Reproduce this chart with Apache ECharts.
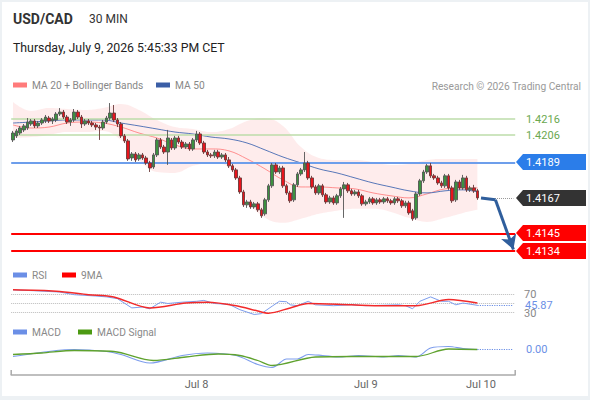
<!DOCTYPE html>
<html><head><meta charset="utf-8">
<script src="https://cdn.jsdelivr.net/npm/echarts@6.0.0/dist/echarts.min.js"></script>
<style>
html,body{margin:0;padding:0;background:#fff;}
#wrap{position:relative;width:590px;height:400px;overflow:hidden;}
#c{position:absolute;left:0;top:0;width:590px;height:400px;}
#frame{position:absolute;left:0;top:0;width:590px;height:400px;box-sizing:border-box;border-style:solid;border-color:#edf1f4;border-width:2px 2px 4px 2px;pointer-events:none;}
</style></head>
<body><div id="wrap"><div id="c"></div><div id="frame"></div></div>
<script>
// ---------- data ----------
const opens = [
1.42030,1.42055,1.42073,1.42092,1.42104,1.42129,1.42148,1.42117,1.42135,1.42148,
1.42166,1.42148,1.42154,1.42191,1.42203,1.42172,1.42141,1.42154,1.42203,1.42172,
1.42129,1.42148,1.42135,1.42123,1.42110,1.42104,1.42141,1.42166,1.42197,1.42154,
1.42129,1.42055,1.42024,1.41918,1.41943,1.41912,1.41937,1.41918,1.41887,1.41862,
1.41937,1.42030,1.41986,1.41955,1.42030,1.41980,1.42042,1.42017,1.41986,1.42005,
1.41974,1.42030,1.42067,1.42011,1.41955,1.41937,1.41931,1.41955,1.41924,1.41937,
1.41906,1.41869,1.41844,1.41794,1.41707,1.41627,1.41645,1.41614,1.41633,1.41596,
1.41571,1.41658,1.41745,1.41875,1.41831,1.41856,1.41745,1.41701,1.41658,1.41751,
1.41819,1.41844,1.41887,1.41794,1.41738,1.41701,1.41745,1.41689,1.41645,1.41670,
1.41639,1.41683,1.41726,1.41751,1.41714,1.41695,1.41707,1.41683,1.41633,1.41645,
1.41664,1.41639,1.41658,1.41645,1.41664,1.41652,1.41639,1.41664,1.41652,1.41621,
1.41639,1.41590,1.41546,1.41695,1.41776,1.41831,1.41869,1.41807,1.41794,1.41763,
1.41745,1.41807,1.41732,1.41658,1.41769,1.41732,1.41794,1.41720,1.41732,1.41714];
const closes = [
1.42073,1.42086,1.42104,1.42117,1.42141,1.42148,1.42117,1.42135,1.42154,1.42172,
1.42148,1.42160,1.42191,1.42203,1.42172,1.42141,1.42154,1.42203,1.42172,1.42129,
1.42148,1.42135,1.42123,1.42110,1.42104,1.42141,1.42166,1.42197,1.42154,1.42129,
1.42055,1.42024,1.41912,1.41943,1.41906,1.41937,1.41918,1.41887,1.41856,1.41937,
1.42030,1.41986,1.41955,1.42042,1.41980,1.42042,1.42017,1.41986,1.42005,1.41974,
1.42030,1.42067,1.42011,1.41955,1.41937,1.41931,1.41955,1.41924,1.41937,1.41906,
1.41869,1.41844,1.41794,1.41707,1.41627,1.41645,1.41614,1.41633,1.41596,1.41559,
1.41658,1.41745,1.41875,1.41831,1.41856,1.41745,1.41701,1.41652,1.41751,1.41819,
1.41844,1.41887,1.41794,1.41738,1.41701,1.41745,1.41689,1.41645,1.41670,1.41639,
1.41683,1.41726,1.41751,1.41714,1.41695,1.41707,1.41683,1.41633,1.41645,1.41664,
1.41639,1.41658,1.41645,1.41664,1.41652,1.41639,1.41664,1.41652,1.41621,1.41639,
1.41577,1.41540,1.41695,1.41776,1.41831,1.41869,1.41807,1.41794,1.41763,1.41745,
1.41807,1.41732,1.41652,1.41769,1.41732,1.41794,1.41720,1.41732,1.41714,1.41670];
const highs = [
1.42086,1.42098,1.42117,1.42129,1.42166,1.42160,1.42160,1.42148,1.42166,1.42185,
1.42179,1.42172,1.42203,1.42228,1.42216,1.42185,1.42166,1.42222,1.42216,1.42185,
1.42160,1.42160,1.42148,1.42135,1.42123,1.42154,1.42179,1.42259,1.42247,1.42166,
1.42141,1.42067,1.42036,1.41955,1.41955,1.41949,1.41949,1.41931,1.41900,1.41949,
1.42042,1.42042,1.41999,1.42092,1.42042,1.42055,1.42055,1.42030,1.42017,1.42017,
1.42042,1.42086,1.42079,1.42024,1.41968,1.41949,1.41968,1.41968,1.41949,1.41949,
1.41924,1.41881,1.41856,1.41807,1.41720,1.41658,1.41658,1.41645,1.41645,1.41608,
1.41670,1.41757,1.41887,1.41887,1.41869,1.41869,1.41757,1.41714,1.41763,1.41831,
1.41856,1.41955,1.41900,1.41807,1.41751,1.41757,1.41757,1.41701,1.41683,1.41683,
1.41695,1.41738,1.41769,1.41763,1.41726,1.41720,1.41720,1.41695,1.41658,1.41676,
1.41676,1.41670,1.41670,1.41676,1.41676,1.41664,1.41676,1.41676,1.41664,1.41652,
1.41652,1.41602,1.41707,1.41788,1.41844,1.41881,1.41887,1.41819,1.41807,1.41776,
1.41819,1.41819,1.41745,1.41782,1.41782,1.41813,1.41807,1.41745,1.41751,1.41726];
const lows = [
1.42017,1.42042,1.42061,1.42079,1.42092,1.42117,1.42104,1.42104,1.42123,1.42135,
1.42135,1.42129,1.42141,1.42179,1.42160,1.42129,1.42117,1.42141,1.42160,1.42104,
1.42117,1.42123,1.42110,1.42092,1.42030,1.42092,1.42129,1.42154,1.42141,1.42110,
1.42042,1.42011,1.41900,1.41900,1.41893,1.41900,1.41906,1.41875,1.41831,1.41850,
1.41924,1.41974,1.41943,1.41875,1.41968,1.41968,1.42005,1.41974,1.41974,1.41962,
1.41962,1.42017,1.41999,1.41943,1.41924,1.41918,1.41918,1.41912,1.41912,1.41893,
1.41856,1.41831,1.41782,1.41695,1.41614,1.41608,1.41602,1.41602,1.41583,1.41546,
1.41559,1.41645,1.41732,1.41819,1.41819,1.41732,1.41689,1.41639,1.41645,1.41738,
1.41807,1.41831,1.41782,1.41726,1.41689,1.41689,1.41676,1.41633,1.41633,1.41627,
1.41627,1.41670,1.41546,1.41701,1.41683,1.41683,1.41670,1.41621,1.41621,1.41633,
1.41627,1.41627,1.41633,1.41633,1.41639,1.41627,1.41627,1.41639,1.41608,1.41608,
1.41565,1.41528,1.41534,1.41683,1.41763,1.41819,1.41794,1.41782,1.41751,1.41732,
1.41732,1.41720,1.41639,1.41645,1.41720,1.41720,1.41707,1.41707,1.41701,1.41658];

// moving averages / bands, read at every 5th candle
const maIdx  = [0,5,10,15,20,25,30,35,40,45,50,55,60,65,70,75,80,85,90,95,100,105,110,115,120,125,129];
const ma20   = [1.42123,1.42104,1.42110,1.42135,1.42141,1.42135,1.42110,1.42073,1.42042,1.41999,1.41974,1.41974,1.41962,1.41912,1.41850,1.41782,1.41738,1.41738,1.41732,1.41726,1.41701,1.41683,1.41670,1.41695,1.41726,1.41732,1.41732];
const ma50   = [1.42135,1.42141,1.42148,1.42154,1.42154,1.42154,1.42135,1.42117,1.42098,1.42079,1.42067,1.42048,1.42036,1.42011,1.41968,1.41924,1.41887,1.41850,1.41825,1.41794,1.41763,1.41738,1.41714,1.41701,1.41714,1.41720,1.41707];
const bbUpper= [1.42265,1.42210,1.42228,1.42222,1.42216,1.42228,1.42253,1.42216,1.42154,1.42110,1.42098,1.42079,1.42098,1.42148,1.42166,1.42117,1.41986,1.41918,1.41906,1.41906,1.41893,1.41875,1.41881,1.41906,1.41912,1.41912,1.41912];
const bbLower= [1.42042,1.42048,1.42061,1.42079,1.42079,1.42086,1.42030,1.41906,1.41831,1.41825,1.41869,1.41887,1.41856,1.41658,1.41546,1.41515,1.41540,1.41571,1.41590,1.41602,1.41602,1.41583,1.41546,1.41521,1.41546,1.41577,1.41596];

// RSI and its 9-period MA
const rsiIdx  = [0,6,13,17,23,26,29,33,36,38,41,43,47,51,53,56,60,63,67,69,72,74,76,77,79,82,84,89,94,98,103,107,109,111,113,116,119,121,123,125,129];
const rsiVals = [81,79,76,70,67,65,61,40,42,38,53,50,53,55,57,50,48,36,25,27,44,55,54,47,45,55,47,45,47,45,46,47,45,38,55,65,55,55,47,51,45.87];
const ma9Idx  = [0,12,21,28,38,48,54,62,68,71,77,82,94,103,112,121,129];
const ma9Vals = [81,78,70,65,40,51,53,45,33,28,40,50,47,45,45,59,51];

// MACD
const macdIdx  = [0,12,17,26,30,38,47,54,62,68,72,76,79,82,86,91,96,103,107,112,116,121,125,129];
const macdVals = [-0.00011,0.00001,0.00003,-0.00001,-0.00007,-0.00024,-0.00009,-0.00004,-0.00009,-0.00027,-0.00033,-0.00016,-0.00016,-0.00007,-0.00009,-0.00012,-0.00009,-0.00012,-0.00009,-0.00012,0.00006,0.00009,0.00005,0.00003];
const sigIdx   = [0,8,17,28,39,48,57,63,68,72,84,94,112,121,129];
const sigVals  = [-0.00007,-0.00004,0.00001,-0.00001,-0.00019,-0.00012,-0.00006,-0.00009,-0.00019,-0.00029,-0.00012,-0.00011,-0.00011,0.00004,0.00003];

// levels
const levelValues = [1.4216, 1.4206, 1.4189, 1.4167, 1.4145, 1.4134];
const levelLabels = ['1.4216','1.4206','1.4189','1.4167','1.4145','1.4134'];
const rsiLevels = [70, 50, 30];
const rsiLevelLabels = ['70', '', '30'];
const rsiLast = 45.87, rsiLastLabel = '45.87';
const macdLastLabel = '0.00';
const targetPrice = 1.4135;

// x axis ticks
const slotCount = 140;
const dateLabelIdx = [51, 98, 130];
const dateLabels = ['Jul 8', 'Jul 9', 'Jul 10'];

// ---------- build ----------
const cats = Array.from({length: slotCount}, (_, i) => String(i));
const pairs = (idx, vals) => idx.map((x, k) => [x, vals[k]]);
const candles = opens.map((o, i) => [o, closes[i], lows[i], highs[i]]);
const lastIdx = opens.length - 1;
const lastClose = closes[lastIdx];
const bandDiff = bbUpper.map((u, k) => +(u - bbLower[k]).toFixed(5));
const FONT = 'Roboto';
const SMALL = 10.2;

const chart = echarts.init(document.getElementById('c'), null, {renderer: 'svg', width: 590, height: 400});

const GL = 11.2, GW = 504;
const legendItem = (name, color, left, top) => ({
  left: left, top: top, padding: 0, icon: 'rect', itemWidth: 14, itemHeight: 5,
  textStyle: {color: '#888', fontSize: SMALL, fontFamily: FONT},
  data: [{name: name, itemStyle: {color: color}}]
});
const option = {
  animation: false,
  textStyle: {fontFamily: FONT},
  grid: [
    {left: GL, width: GW, top: 95, height: 167},
    {left: GL, width: GW, top: 281.5, height: 44},
    {left: GL, width: GW, top: 335, height: 40}
  ],
  xAxis: [
    {type: 'category', gridIndex: 0, data: cats, show: false},
    {type: 'category', gridIndex: 1, data: cats, show: false},
    {type: 'category', gridIndex: 2, data: cats,
      axisLine: {onZero: false, lineStyle: {color: '#aaaaaa', width: 1.5}},
      axisTick: {show: false},
      splitLine: {show: false},
      axisLabel: {
        interval: (i) => dateLabelIdx.indexOf(i) >= 0,
        formatter: (v) => { const k = dateLabelIdx.indexOf(Number(v)); return k >= 0 ? dateLabels[k] : ''; },
        color: '#666', fontSize: 11, margin: 4, fontFamily: FONT
      }}
  ],
  yAxis: [
    {type: 'value', gridIndex: 0, min: 1.41272, max: 1.42309, show: false},
    {type: 'value', gridIndex: 1, min: 0, max: 100, show: false},
    {type: 'value', gridIndex: 2, min: -0.00048, max: 0.00032, show: false}
  ],
  legend: [
    legendItem('MA 20 + Bollinger Bands', '#ff7b7b', 13, 80),
    legendItem('MA 50', '#3b5ea6', 156, 80),
    legendItem('RSI', '#6b8fe6', 13, 270),
    legendItem('9MA', '#ff0000', 62, 270),
    legendItem('MACD', '#6b8fe6', 13, 327),
    legendItem('MACD Signal', '#4c9a12', 78, 327)
  ],
  series: [
    {name: 'bbLow', type: 'line', xAxisIndex: 0, yAxisIndex: 0, stack: 'bb', smooth: 0.4, symbol: 'none', silent: true, z: 1,
      lineStyle: {opacity: 0}, data: pairs(maIdx, bbLower)},
    {name: 'bbBand', type: 'line', xAxisIndex: 0, yAxisIndex: 0, stack: 'bb', smooth: 0.4, symbol: 'none', silent: true, z: 1,
      lineStyle: {opacity: 0}, areaStyle: {color: 'rgba(250,175,175,0.33)'}, data: pairs(maIdx, bandDiff)},
    {name: 'MA 20 + Bollinger Bands', type: 'line', xAxisIndex: 0, yAxisIndex: 0, smooth: 0.4, symbol: 'none', z: 2,
      color: '#ff8f8f', lineStyle: {color: '#ff8f8f', width: 1}, data: pairs(maIdx, ma20)},
    {name: 'MA 50', type: 'line', xAxisIndex: 0, yAxisIndex: 0, smooth: 0.4, symbol: 'none', z: 2,
      color: '#5877b8', lineStyle: {color: '#5877b8', width: 1}, data: pairs(maIdx, ma50),
      markLine: {silent: true, symbol: ['none', 'none'], label: {show: false}, z: 4, precision: 5,
        data: [
          {yAxis: levelValues[0], lineStyle: {color: '#bcdcaa', width: 1.5, type: 'solid'}},
          {yAxis: levelValues[1], lineStyle: {color: '#bcdcaa', width: 1.5, type: 'solid'}},
          {yAxis: levelValues[2], lineStyle: {color: '#6d9eeb', width: 2, type: 'solid'}},
          {yAxis: levelValues[4], lineStyle: {color: '#ff0000', width: 2, type: 'solid'}},
          {yAxis: levelValues[5], lineStyle: {color: '#ff0000', width: 2, type: 'solid'}}
        ]}},
    {name: 'USD/CAD', type: 'candlestick', xAxisIndex: 0, yAxisIndex: 0, z: 6, barWidth: 3,
      itemStyle: {color: '#3c9140', color0: '#e8141c', borderColor: '#555555', borderColor0: '#6a3a3a', borderWidth: 0.9},
      data: candles,
      markLine: {silent: true, label: {show: false}, z: 7, symbol: ['none', 'none'], precision: 5,
        data: [
          [{coord: [lastIdx + 1, lastClose]}, {coord: [slotCount - 1, lastClose]}],
          [{coord: [lastIdx + 1, lastClose], symbol: 'none', lineStyle: {color: '#2f5e9c', width: 3, type: 'solid'}},
           {coord: [lastIdx + 5, lastClose - 0.00012], symbol: 'none'}],
          [{coord: [lastIdx + 5, lastClose - 0.00012], symbol: 'none', lineStyle: {color: '#2f5e9c', width: 3, type: 'solid'}},
           {coord: [slotCount - 1, targetPrice], symbol: 'arrow', symbolSize: [12, 14]}]
        ],
        lineStyle: {color: '#999', width: 1, type: 'dotted'}}},
    {name: 'RSI', type: 'line', xAxisIndex: 1, yAxisIndex: 1, symbol: 'none', z: 3,
      color: '#7d9ded', lineStyle: {color: '#7d9ded', width: 1}, data: pairs(rsiIdx, rsiVals),
      markLine: {silent: true, symbol: ['none', 'none'], label: {show: false}, z: 1, precision: 5,
        data: rsiLevels.map(v => ({yAxis: v, lineStyle: {color: '#bbbbbb', width: 1, type: 'dotted'}})).concat([
          [{coord: [lastIdx, rsiLast], lineStyle: {color: '#6b8fe6', width: 1.2, type: 'dotted'}}, {coord: [slotCount - 1, rsiLast]}]
        ])}},
    {name: '9MA', type: 'line', xAxisIndex: 1, yAxisIndex: 1, symbol: 'none', smooth: 0.3, z: 4,
      color: '#f22a2a', lineStyle: {color: '#f22a2a', width: 1.5}, data: pairs(ma9Idx, ma9Vals)},
    {name: 'MACD', type: 'line', xAxisIndex: 2, yAxisIndex: 2, symbol: 'none', smooth: 0.3, z: 3,
      color: '#7d9ded', lineStyle: {color: '#7d9ded', width: 1.2}, data: pairs(macdIdx, macdVals),
      markLine: {silent: true, symbol: ['none', 'none'], label: {show: false}, precision: 6,
        data: [[{coord: [lastIdx, macdVals[macdVals.length - 1]], lineStyle: {color: '#6b8fe6', width: 1.2, type: 'dotted'}},
                {coord: [slotCount - 1, macdVals[macdVals.length - 1]]}]]}},
    {name: 'MACD Signal', type: 'line', xAxisIndex: 2, yAxisIndex: 2, symbol: 'none', smooth: 0.3, z: 4,
      color: '#5fa22e', lineStyle: {color: '#5fa22e', width: 1.3}, data: pairs(sigIdx, sigVals)}
  ]
};
chart.setOption(option);

// ---------- right-side labels & headers ----------
const yMain = v => chart.convertToPixel({yAxisIndex: 0}, v);
const yRsi = v => chart.convertToPixel({yAxisIndex: 1}, v);
const yMacd = v => chart.convertToPixel({yAxisIndex: 2}, v);
const txt = (text, x, y, fill, font, align) => ({type: 'text', silent: true, z: 20,
  style: {text: text, x: x, y: y, fill: fill, font: font, align: align || 'left', verticalAlign: 'middle',
          textAlign: align || 'left', textVerticalAlign: 'middle'}});
const boxFills = [null, null, '#2b7de9', '#333333', '#ff0000', '#ff0000'];
const g = [];
g.push(txt('USD/CAD', 13, 19, '#333', 'bold 14px Roboto'));
g.push(txt('30 MIN', 89, 19, '#333', '12px Roboto'));
g.push(txt('Thursday, July 9, 2026 5:45:33 PM CET', 13, 48, '#222', '12.3px Roboto'));
g.push(txt('Research \u00a9 2026 Trading Central', 581, 86, '#999', SMALL + 'px Roboto', 'right'));
levelValues.forEach((v, k) => {
  const y = Math.round(yMain(v));
  if (boxFills[k]) {
    g.push({type: 'polygon', silent: true, z: 18,
      shape: {points: [[516, y], [523, y - 8], [586, y - 8], [586, y + 8], [523, y + 8]]},
      style: {fill: boxFills[k]}});
    g.push(txt(levelLabels[k], 526, y, '#fff', '11px Roboto'));
  } else {
    g.push(txt(levelLabels[k], 526, y, '#6aa84f', '11px Roboto'));
  }
});
rsiLevels.forEach((v, k) => { if (rsiLevelLabels[k]) g.push(txt(rsiLevelLabels[k], 524, yRsi(v) + (v < 50 ? 1 : 0), '#888', '11px Roboto')); });
const yr = yRsi(rsiLast);
g.push({type: 'rect', silent: true, z: 19, shape: {x: 522, y: yr - 6, width: 34, height: 11}, style: {fill: '#fff'}});
g.push(txt(rsiLastLabel, 525, yr, '#6b8fe6', '11px Roboto'));
g.push(txt(macdLastLabel, 526, yMacd(macdVals[macdVals.length - 1]), '#6b8fe6', '11px Roboto'));
g.push({type: 'line', silent: true, z: 20, shape: {x1: GL, y1: 370, x2: GL, y2: 375}, style: {stroke: '#aaa', lineWidth: 1.5}});
g.push({type: 'line', silent: true, z: 20, shape: {x1: GL + GW, y1: 370, x2: GL + GW, y2: 375}, style: {stroke: '#aaa', lineWidth: 1.5}});
chart.setOption({graphic: g});
</script>
</body></html>
